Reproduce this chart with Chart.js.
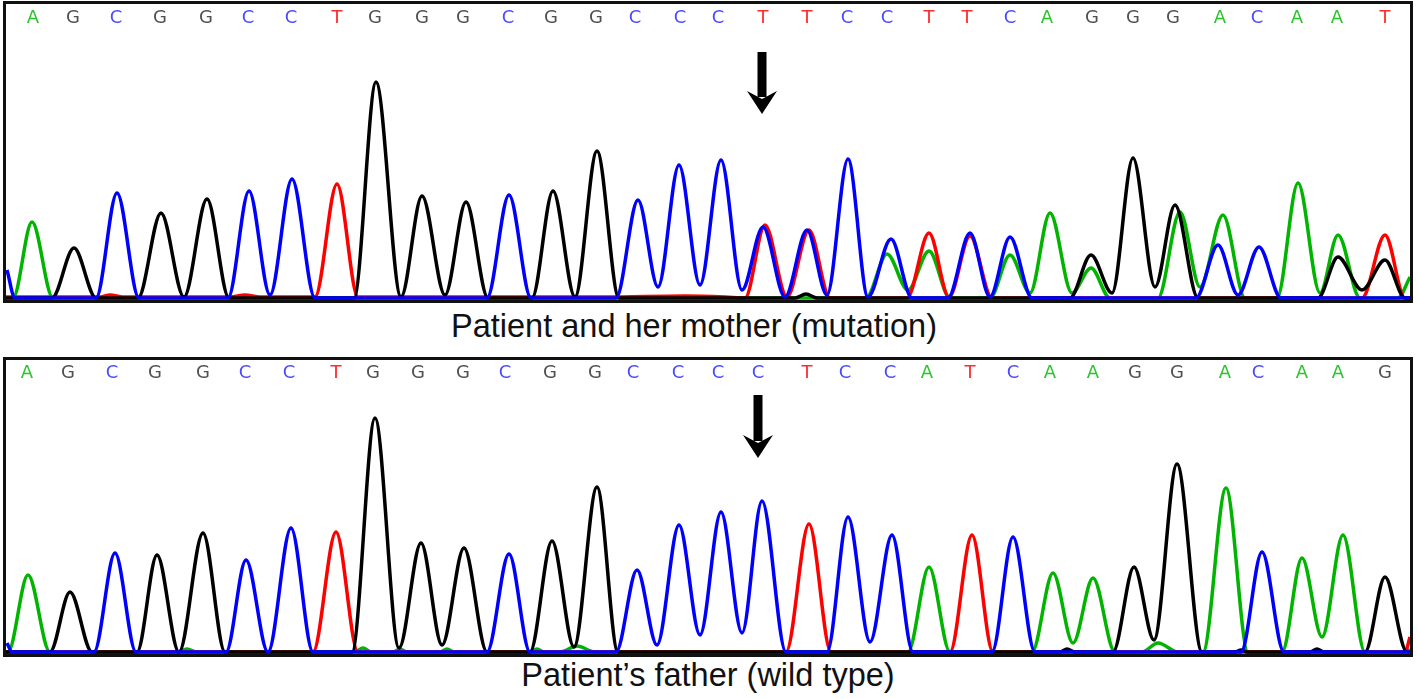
<!DOCTYPE html>
<html>
<head>
<meta charset="utf-8">
<script src="https://cdn.jsdelivr.net/npm/chart.js@4"></script>
<style>
  body { margin: 0; background: #fff; width: 1418px; height: 699px; position: relative; overflow: hidden; }
  .box { position: absolute; left: 3px; width: 1404px; border: 3px solid #111; }
  .box canvas { display: block; }
  #boxTop { top: 1px; height: 296px; }
  #boxBottom { top: 357px; height: 294px; }
  .caption {
    position: absolute; transform: translateX(-50%); white-space: nowrap;
    font-family: "Liberation Sans", Arial, sans-serif; font-size: 32.5px; line-height: 33px; color: #111;
  }
</style>
</head>
<body>
<div class="box" id="boxTop"><canvas id="chartTop" width="1404" height="296"></canvas></div>
<div class="caption" style="left:694px; top:310px;">Patient and her mother (mutation)</div>
<div class="box" id="boxBottom"><canvas id="chartBottom" width="1404" height="294"></canvas></div>
<div class="caption" style="left:708px; top:659px;">Patient’s father (wild type)</div>

<script>
// ---------------- DATA ----------------
// trace vertices: [scan, signal]; peaks, valleys and feet

// patient and her mother
const topA = [[0,0],[8,0],[27,76],[48,0],[861,0],[882,44],[903,8],[924,47],[945,0],[985,0],[1005,43],[1025,5],
  [1045,85],[1067,5],[1086,30],[1105,0],[1153,0],[1175,86],[1195,11],[1218,83],[1240,0],[1272,0],[1293,115],
  [1315,5],[1333,63],[1355,0],[1393,0],[1405,21]];
const topG = [[0,0],[47,0],[69,50],[91,0],[133,0],[156,85],[179,1],[202,99],[224,0],[349,0],[371,216],[396,1],
  [417,102],[440,3],[461,96],[483,0],[527,0],[548,107],[570,1],[592,147],[614,0],[790,0],[801,4],[812,0],
  [1065,0],[1086,43],[1107,5],[1128,140],[1150,11],[1170,93],[1193,0],[1313,0],[1333,41],[1357,8],[1380,38],
  [1400,0],[1405,0]];
const topC = [[2,28],[10,0],[91,0],[112,105],[134,0],[223,0],[244,107],[265,3],[287,119],[310,0],[482,0],
  [504,103],[526,0],[611,0],[633,98],[653,11],[674,133],[695,13],[716,138],[737,8],[758,71],[780,1],[802,68],
  [822,3],[843,139],[863,1],[886,59],[907,0],[943,0],[965,65],[985,1],[1005,61],[1027,0],[1191,0],[1213,53],
  [1233,3],[1254,51],[1276,0],[1405,0]];
const topT = [[0,1],[95,1],[105,3],[118,1],[225,1],[240,3],[255,1],[310,1],[332,114],[353,1],[600,1],[680,2],
  [720,1],[740,0],[760,73],[782,1],[804,68],[825,0],[902,0],[924,65],[944,1],[965,62],[987,0],[1357,0],
  [1380,63],[1400,0],[1405,0]];
const topCalls = "AGCGGCCTGGGCGGCCCTTCCTTCAGGGACAAT";
const topCallPos = [28,68,111,155,201,243,286,332,370,417,458,503,546,591,630,675,713,758,802,842,882,924,
  962,1005,1042,1087,1128,1168,1215,1252,1292,1332,1380];
const topArrow = 757;

// patient's father
const botA = [[0,0],[3,0],[23,77],[45,0],[172,0],[182,3],[192,0],[350,0],[358,4],[366,0],[388,0],[395,3],
  [402,0],[435,0],[442,3],[449,0],[525,0],[532,3],[539,0],[555,0],[572,6],[590,0],[903,0],[924,85],[945,0],
  [1027,0],[1048,79],[1068,9],[1088,74],[1110,0],[1137,0],[1153,9],[1173,0],[1198,0],[1221,164],[1243,0],
  [1277,0],[1297,94],[1317,15],[1338,117],[1360,0],[1398,0],[1405,2]];
const botG = [[0,0],[45,0],[65,60],[87,0],[132,0],[152,97],[174,0],[198,119],[220,0],[347,0],[370,234],
  [394,4],[416,109],[437,7],[459,104],[482,0],[525,0],[547,111],[569,5],[592,165],[613,0],[1055,0],[1062,3],
  [1070,0],[1108,0],[1129,85],[1149,12],[1172,188],[1197,0],[1230,0],[1236,2],[1242,0],[1305,0],[1312,3],
  [1319,0],[1360,0],[1380,75],[1402,0],[1405,0]];
const botC = [[2,9],[7,0],[89,0],[110,99],[131,0],[221,0],[241,92],[263,0],[286,124],[308,0],[482,0],
  [504,98],[525,0],[611,0],[632,82],[652,7],[674,127],[695,17],[716,140],[737,19],[757,151],[781,0],[822,0],
  [843,135],[865,10],[887,117],[908,0],[987,0],[1008,115],[1030,0],[1236,0],[1257,100],[1279,0],[1405,0]];
const botT = [[0,0],[308,0],[331,120],[353,0],[781,0],[804,128],[826,0],[945,0],[967,117],[988,0],
  [1400,0],[1405,15]];
const botCalls = "AGCGGCCTGGGCGGCCCCTCCATCAAGGACAAG";
const botCallPos = [22,63,107,150,198,240,284,331,368,413,458,500,545,590,628,673,713,753,802,840,885,922,
  965,1008,1045,1088,1130,1172,1220,1253,1297,1333,1380];
const botArrow = 753;

const traceColors = { A: "#00b400", C: "#0000ff", G: "#000000", T: "#ff0000" };
const callColors = { A: "#2ec42e", C: "#4b4bff", G: "#505050", T: "#ff2b2b" };

// ---------------- PLUGIN: base calls + arrow ----------------
const decorPlugin = {
  id: "decor",
  afterDatasetsDraw(chart, args, opts) {
    const ctx = chart.ctx;
    const xs = chart.scales.x;
    ctx.save();
    ctx.font = "18px 'DejaVu Sans', sans-serif";
    ctx.textAlign = "center";
    ctx.textBaseline = "middle";
    opts.calls.split("").forEach((b, i) => {
      ctx.fillStyle = callColors[b];
      ctx.fillText(b, xs.getPixelForValue(opts.callPos[i]), opts.callY);
    });

    // arrow
    const ax = xs.getPixelForValue(opts.arrow);
    const a = opts.arrowY;
    ctx.fillStyle = "#000";
    ctx.fillRect(ax - 4.5, a[0], 9, a[1] - a[0] + 6);
    ctx.beginPath();
    ctx.moveTo(ax - 15, a[1]);
    ctx.lineTo(ax, a[1] + 8);
    ctx.lineTo(ax + 15, a[1]);
    ctx.lineTo(ax, a[2]);
    ctx.closePath();
    ctx.fill();
    ctx.restore();
  }
};

function makeChart(id, traces, yMin, yMax, decor) {
  const order = ["C", "G", "T", "A"]; // first one ends up on top
  return new Chart(document.getElementById(id), {
    type: "line",
    data: {
      datasets: order.map(b => ({
        label: b,
        data: traces[b].map(p => ({ x: p[0], y: p[1] })),
        borderColor: traceColors[b],
        borderWidth: 3.5,
        pointRadius: 0,
        fill: false,
        cubicInterpolationMode: "monotone"
      }))
    },
    options: {
      responsive: false,
      animation: false,
      layout: { padding: 0 },
      plugins: { legend: { display: false }, tooltip: { enabled: false }, decor: decor },
      scales: {
        x: { type: "linear", display: false, min: 1, max: 1405 },
        y: { display: false, min: yMin, max: yMax }
      }
    },
    plugins: [decorPlugin]
  });
}

makeChart("chartTop", { A: topA, C: topC, G: topG, T: topT }, -2, 294,
  { calls: topCalls, callPos: topCallPos, callY: 14, arrow: topArrow, arrowY: [48, 87, 110] });

makeChart("chartBottom", { A: botA, C: botC, G: botG, T: botT }, -2, 292,
  { calls: botCalls, callPos: botCallPos, callY: 13, arrow: botArrow, arrowY: [35, 75, 98] });
</script>
</body>
</html>
